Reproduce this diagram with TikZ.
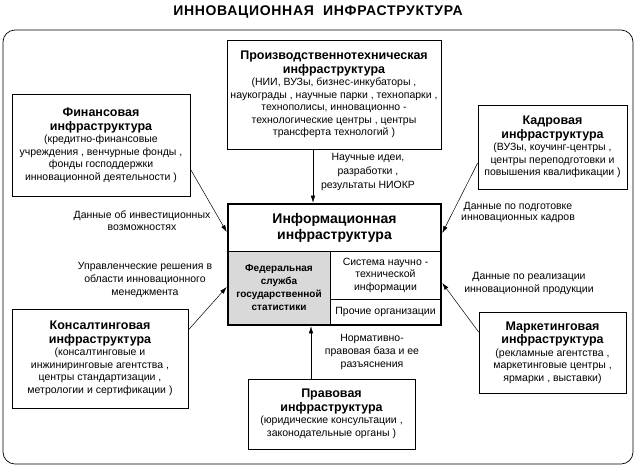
\documentclass[tikz,border=0pt]{standalone}
\usepackage{fontspec}
\setmainfont{Liberation Sans}
\usetikzlibrary{arrows.meta,fit}
\definecolor{statgray}{RGB}{217,217,217}
\newcommand{\infratitle}[1]{{\fontsize{12.5}{13}\selectfont\bfseries #1}}

\begin{document}
\begin{tikzpicture}[x=1pt, y=1pt, >={Latex[length=7pt,width=4.5pt]},
    infra/.style={draw, line width=0.7pt, align=center, inner sep=0pt,
        font=\fontsize{10.5}{12.5}\selectfont},
    cell/.style={draw, line width=0.6pt, align=center, inner sep=0pt,
        font=\fontsize{10.5}{12.5}\selectfont},
    lbl/.style={align=center, inner sep=0pt, font=\fontsize{10.5}{13}\selectfont},
    flow/.style={->, line width=0.5pt}]
    \useasboundingbox (0,0) rectangle (637,-467);
    % title and frame
    \node[font=\fontsize{14}{16}\selectfont\bfseries\addfontfeature{LetterSpace=5}]
        (title) at (318,-12) {ИННОВАЦИОННАЯ\ \ ИНФРАСТРУКТУРА};
    \draw[line width=0.7pt, rounded corners=12pt] (3,-30) rectangle (633,-464);
    % outer boxes
    \node[infra, minimum width=214, minimum height=109] (prod) at (334,-94.5)
        {\infratitle{Производственнотехническая}\\[1pt]\infratitle{инфраструктура}\\
         (НИИ, ВУЗы, бизнес-инкубаторы ,\\наукограды , научные парки , технопарки ,\\
         технополисы, инновационно -\\технологические центры , центры\\
         трансферта технологий )};
    \node[infra, minimum width=178, minimum height=102] (fin) at (101,-145)
        {\infratitle{Финансовая}\\[1pt]\infratitle{инфраструктура}\\
         (кредитно-финансовые\\учреждения , венчурные фонды ,\\
         фонды господдержки\\инновационной деятельности )};
    \node[infra, minimum width=149, minimum height=84] (staff) at (552.5,-147)
        {\infratitle{Кадровая}\\[1pt]\infratitle{инфраструктура}\\
         (ВУЗы, коучинг-центры ,\\центры переподготовки и\\
         повышения квалификации )};
    \node[infra, minimum width=176, minimum height=99] (cons) at (100,-358.5)
        {\infratitle{Консалтинговая}\\[1pt]\infratitle{инфраструктура}\\
         (консалтинговые и\\инжиниринговые агентства ,\\
         центры стандартизации ,\\метрологии и сертификации )};
    \node[infra, minimum width=147, minimum height=81] (mkt) at (552.5,-352.5)
        {\infratitle{Маркетинговая}\\[1pt]\infratitle{инфраструктура}\\
         (рекламные агентства ,\\маркетинговые центры ,\\ярмарки , выставки)};
    \node[infra, minimum width=167, minimum height=70] (law) at (331.5,-414)
        {\infratitle{Правовая}\\[1pt]\infratitle{инфраструктура}\\
         (юридические консультации ,\\законодательные органы )};
    % information infrastructure
    \node[cell, minimum width=213, minimum height=47,
        font=\fontsize{14}{16}\selectfont\bfseries] (infotop) at (334.5,-227.5)
        {Информационная\\инфраструктура};
    \node[cell, fill=statgray, minimum width=102, minimum height=74,
        font=\fontsize{10}{13}\selectfont\bfseries] (fedstat) at (279,-288)
        {Федеральная\\служба\\государственной\\статистики};
    \node[cell, minimum width=111, minimum height=48] (snti) at (385.5,-275)
        {Система научно -\\технической\\информации};
    \node[cell, minimum width=111, minimum height=26] (other) at (385.5,-312)
        {Прочие организации};
    \draw[line width=1.2pt] (infotop.south west) -- (infotop.south east);
    \node[fit=(infotop)(fedstat)(other), draw, line width=2pt, inner sep=0pt] (info) {};
    % flows
    \draw[flow] ([xshift=-21pt]prod.south) -- ([xshift=-21.5pt]info.north);
    \draw[flow] ([xshift=-20.5pt]law.north) -- ([xshift=-23.5pt]info.south);
    \draw[flow] ([yshift=-24pt]fin.east) -- ([yshift=32.5pt]info.west);
    \draw[flow] ([yshift=28.5pt]cons.east) -- ([yshift=-22.5pt]info.west);
    \draw[flow] ([yshift=-16pt]staff.west) -- ([yshift=31.5pt]info.east);
    \draw[flow] ([yshift=20.5pt]mkt.west) -- ([yshift=-18.5pt]info.east);
    % flow labels
    \node[lbl, font=\fontsize{10.5}{14}\selectfont] (lblsci) at (368,-172)
        {Научные идеи,\\разработки ,\\результаты НИОКР};
    \node[lbl] (lblnorm) at (372,-352)
        {Нормативно-\\правовая база и ее\\разъяснения};
    \node[lbl, font=\fontsize{10.5}{11.5}\selectfont] (lblinv) at (142,-220.5)
        {Данные об инвестиционных\\возможностях};
    \node[lbl] (lblmgmt) at (145,-280)
        {Управленческие решения в\\области инновационного\\менеджмента};
    \node[lbl, font=\fontsize{10.5}{11.5}\selectfont] (lblstaff) at (518,-212.5)
        {Данные по подготовке\\инновационных кадров};
    \node[lbl] (lblsales) at (529,-283.5)
        {Данные по реализации\\инновационной продукции};
\end{tikzpicture}
\end{document}
